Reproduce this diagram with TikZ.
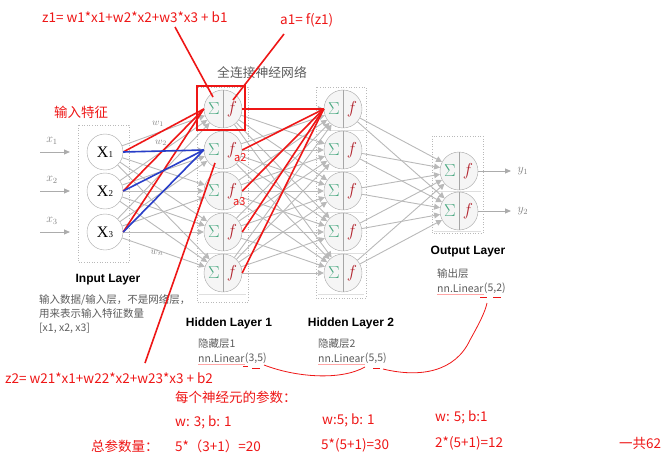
\documentclass[tikz,border=0pt]{standalone}
\usepackage{fontspec}
\setmainfont{Liberation Serif}
\newfontfamily\cjk{Noto Sans CJK SC}
\newfontfamily\headfont{Liberation Sans}
\usepackage{tikz}
\usetikzlibrary{positioning, arrows.meta, calc}
\definecolor{inkRed}{RGB}{238, 22, 22}
\definecolor{inkBlue}{RGB}{40, 62, 200}
\definecolor{sumGreen}{RGB}{72, 168, 128}
\definecolor{fRed}{RGB}{178, 34, 44}
\definecolor{txtGray}{RGB}{92, 92, 92}

\begin{document}
\begin{tikzpicture}[x=1pt, y=-1pt,
    neuron/.style={circle, draw=gray!70, fill=gray!8, minimum size=38pt, inner sep=0pt,
        path picture={
            \draw[gray!70] (path picture bounding box.north) -- (path picture bounding box.south);
            \node[text=sumGreen, font=\fontsize{18}{18}\selectfont] at ($(path picture bounding box.center)+(-9,0)$) {$\Sigma$};
            \node[text=fRed, font=\fontsize{19}{19}\selectfont] at ($(path picture bounding box.center)+(9,0)$) {$f$};
        }},
    innode/.style={circle, draw=gray!70, fill=white, minimum size=36pt, inner sep=0pt,
        font=\fontsize{16}{16}\selectfont},
    conn/.style={draw=gray!55, line width=0.9pt, -{Triangle[length=6pt, width=6pt]}},
    inarr/.style={draw=gray!65, line width=0.9pt, -{Triangle[length=6pt, width=5pt]}},
    layerbox/.style={draw=gray!55, dotted, line width=0.6pt},
    redline/.style={draw=inkRed, line width=1.6pt},
    blueline/.style={draw=inkBlue, line width=1.6pt},
    redpen/.style={draw=inkRed, line width=0.8pt},
    redtxt/.style={text=inkRed, font=\cjk\fontsize{13.5}{15}\selectfont, inner sep=0pt, anchor=west},
    graytxt/.style={text=txtGray, font=\cjk\fontsize{10.5}{14}\selectfont, inner sep=0pt, anchor=west},
    head/.style={font=\headfont\bfseries\fontsize{12}{14}\selectfont, inner sep=0pt}
]
\useasboundingbox (0,0) rectangle (672,460);

% layer boxes
\draw[layerbox] (78,125) rectangle (129,262);
\draw[layerbox] (197,87) rectangle (248,302);
\draw[layerbox] (316,87) rectangle (366,298);
\draw[layerbox] (432,136) rectangle (483,233);

% neurons
\foreach \i/\y in {1/152, 2/191, 3/232}
    \node[innode] (in\i) at (105,\y) {X\kern0.3pt{\small\i}};
\foreach \i in {1,...,5} {
    \draw[gray!25] (199,{89+41*\i}) -- (246,{89+41*\i});
    \draw[gray!25] (318,{89+41*\i}) -- (364,{89+41*\i});
    \node[neuron] (ha\i) at (223,{68+41*\i}) {};
    \node[neuron] (hb\i) at (343,{68+41*\i}) {};
}
\foreach \i in {1,2} {
    \draw[gray!25] (434,{151+40*\i}) -- (481,{151+40*\i});
    \node[neuron] (out\i) at (459,{131+40*\i}) {};
}

% full connections
\foreach \i in {1,2,3}
    \foreach \j in {1,...,5} \draw[conn] (in\i) -- (ha\j);
\foreach \i in {1,...,5}
    \foreach \j in {1,...,5} \draw[conn] (ha\i) -- (hb\j);
\foreach \i in {1,...,5}
    \foreach \j in {1,2} \draw[conn] (hb\i) -- (out\j);

% inputs and outputs
\foreach \i/\y in {1/152, 2/191, 3/232} {
    \coordinate (xs\i) at (40,\y);
    \coordinate (xe\i) at (70,\y);
    \draw[inarr] (xs\i) -- (xe\i);
    \node[text=gray, font=\large] (xl\i) at (52,{\y-11}) {$x_{\i}$};
}
\foreach \i in {1,2} {
    \coordinate (ye\i) at (511,{131+40*\i});
    \draw[inarr] (out\i.east) -- (ye\i);
    \node[text=gray, font=\large, right=3pt of ye\i] (yl\i) {$y_{\i}$};
}
\node[text=gray] (w1) at (158,124) {$w_1$};
\node[text=gray] (w2) at (161,143) {$w_2$};
\node[text=gray] (wn) at (157,253) {$w_n$};

% layer titles
\node[head] (inhead) at (108,280) {Input Layer};
\node[head] (h1head) at (229,323) {Hidden Layer 1};
\node[head] (h2head) at (351,323) {Hidden Layer 2};
\node[head] (outhead) at (468,252) {Output Layer};
\node[text=txtGray, font=\cjk\fontsize{12.8}{14}\selectfont, inner sep=0pt, anchor=west] (fcnet) at (217,73) {全连接神经网络};

\node[graytxt, align=left, anchor=north west] (indesc) at (39,294)
    {输入数据/输入层，不是网络层，\\用来表示输入特征数量\\{[}x1, x2, x3{]}};
\foreach \n/\x/\name/\dims in {1/198/隐藏层1/{(3,5)}, 2/318/隐藏层2/{(5,5)}, 3/437/输出层/{(5,2)}} {
    \node[graytxt] (lname\n) at (\x,{\n==3 ? 274 : 344}) {\name};
    \node[graytxt] (lin\n) at (\x,{\n==3 ? 288 : 358}) {nn.Linear};
    \node[graytxt, right=0pt of lin\n] (dim\n) {\dims};
    \draw[red!35, line width=0.6pt] ([yshift=-1.5pt]lin\n.south west) -- ([yshift=-1.5pt]lin\n.south east);
}

% annotations
\draw[redline] (197,86) rectangle (245,130);
\foreach \i in {1,2,3} \draw[redline] (in\i.east) -- (ha1.west);
\foreach \i in {1,2,3} \draw[blueline] (in\i.east) -- (ha2.west);
\foreach \i in {1,...,5} \draw[redline] (ha\i.east) -- (hb1.west);

\node[redtxt] (zone) at (42,17) {z1= w1*x1+w2*x2+w3*x3 + b1};
\node[redtxt] (aone) at (280,20) {a1= f(z1)};
\node[redtxt, font=\cjk\fontsize{13.5}{15}\selectfont] (feat) at (54,112) {输入特征};
\node[redtxt, font=\cjk\fontsize{11}{12}\selectfont] (atwo) at (234,158) {a2};
\node[redtxt, font=\cjk\fontsize{11}{12}\selectfont] (athree) at (233,202) {a3};
\node[redtxt] (ztwo) at (5,378) {z2= w21*x1+w22*x2+w23*x3 + b2};
\coordinate (zonetip) at (175,27);
\coordinate (aonetip) at (284,34);
\coordinate (ztwotip) at (145,363);
\draw[redline] (zonetip) -- ($(ha1)+(-10,-12)$);
\draw[redline] (aonetip) -- ($(ha1)+(10,-9)$);
\draw[redline] (ztwotip) -- ($(ha2)+(-8,13)$);

% hand strokes under the layer sizes
\draw[redpen] (243,366) -- (248,366);
\draw[redpen] (252,368) -- (260,368);
\draw[redpen] (264,365) .. controls (295,377) and (340,381) .. (365,367);
\draw[redpen] (373,368) -- (380,368);
\draw[redpen] (383,369) .. controls (420,378) and (455,372) .. (470,340) .. controls (480,322) and (485,312) .. (487,303);
\draw[redpen] (480,297) -- (487,297);
\draw[redpen] (493,297) -- (501,297);

% parameter counts
\node[redtxt] (perneuron) at (175,397) {每个神经元的参数：};
\node[redtxt] (pa) at (175,422) {w: 3; b: 1};
\node[redtxt] (pb) at (322,420) {w:5; b: 1};
\node[redtxt] (pc) at (435,417) {w: 5; b:1};
\node[redtxt] (total) at (91,446) {总参数量：};
\node[redtxt] (ta) at (175,446) {5*（3+1）=20};
\node[redtxt] (tb) at (321,445) {5*(5+1)=30};
\node[redtxt] (tc) at (435,443) {2*(5+1)=12};
\node[redtxt] (sum) at (619,443) {一共62};
\end{tikzpicture}
\end{document}
